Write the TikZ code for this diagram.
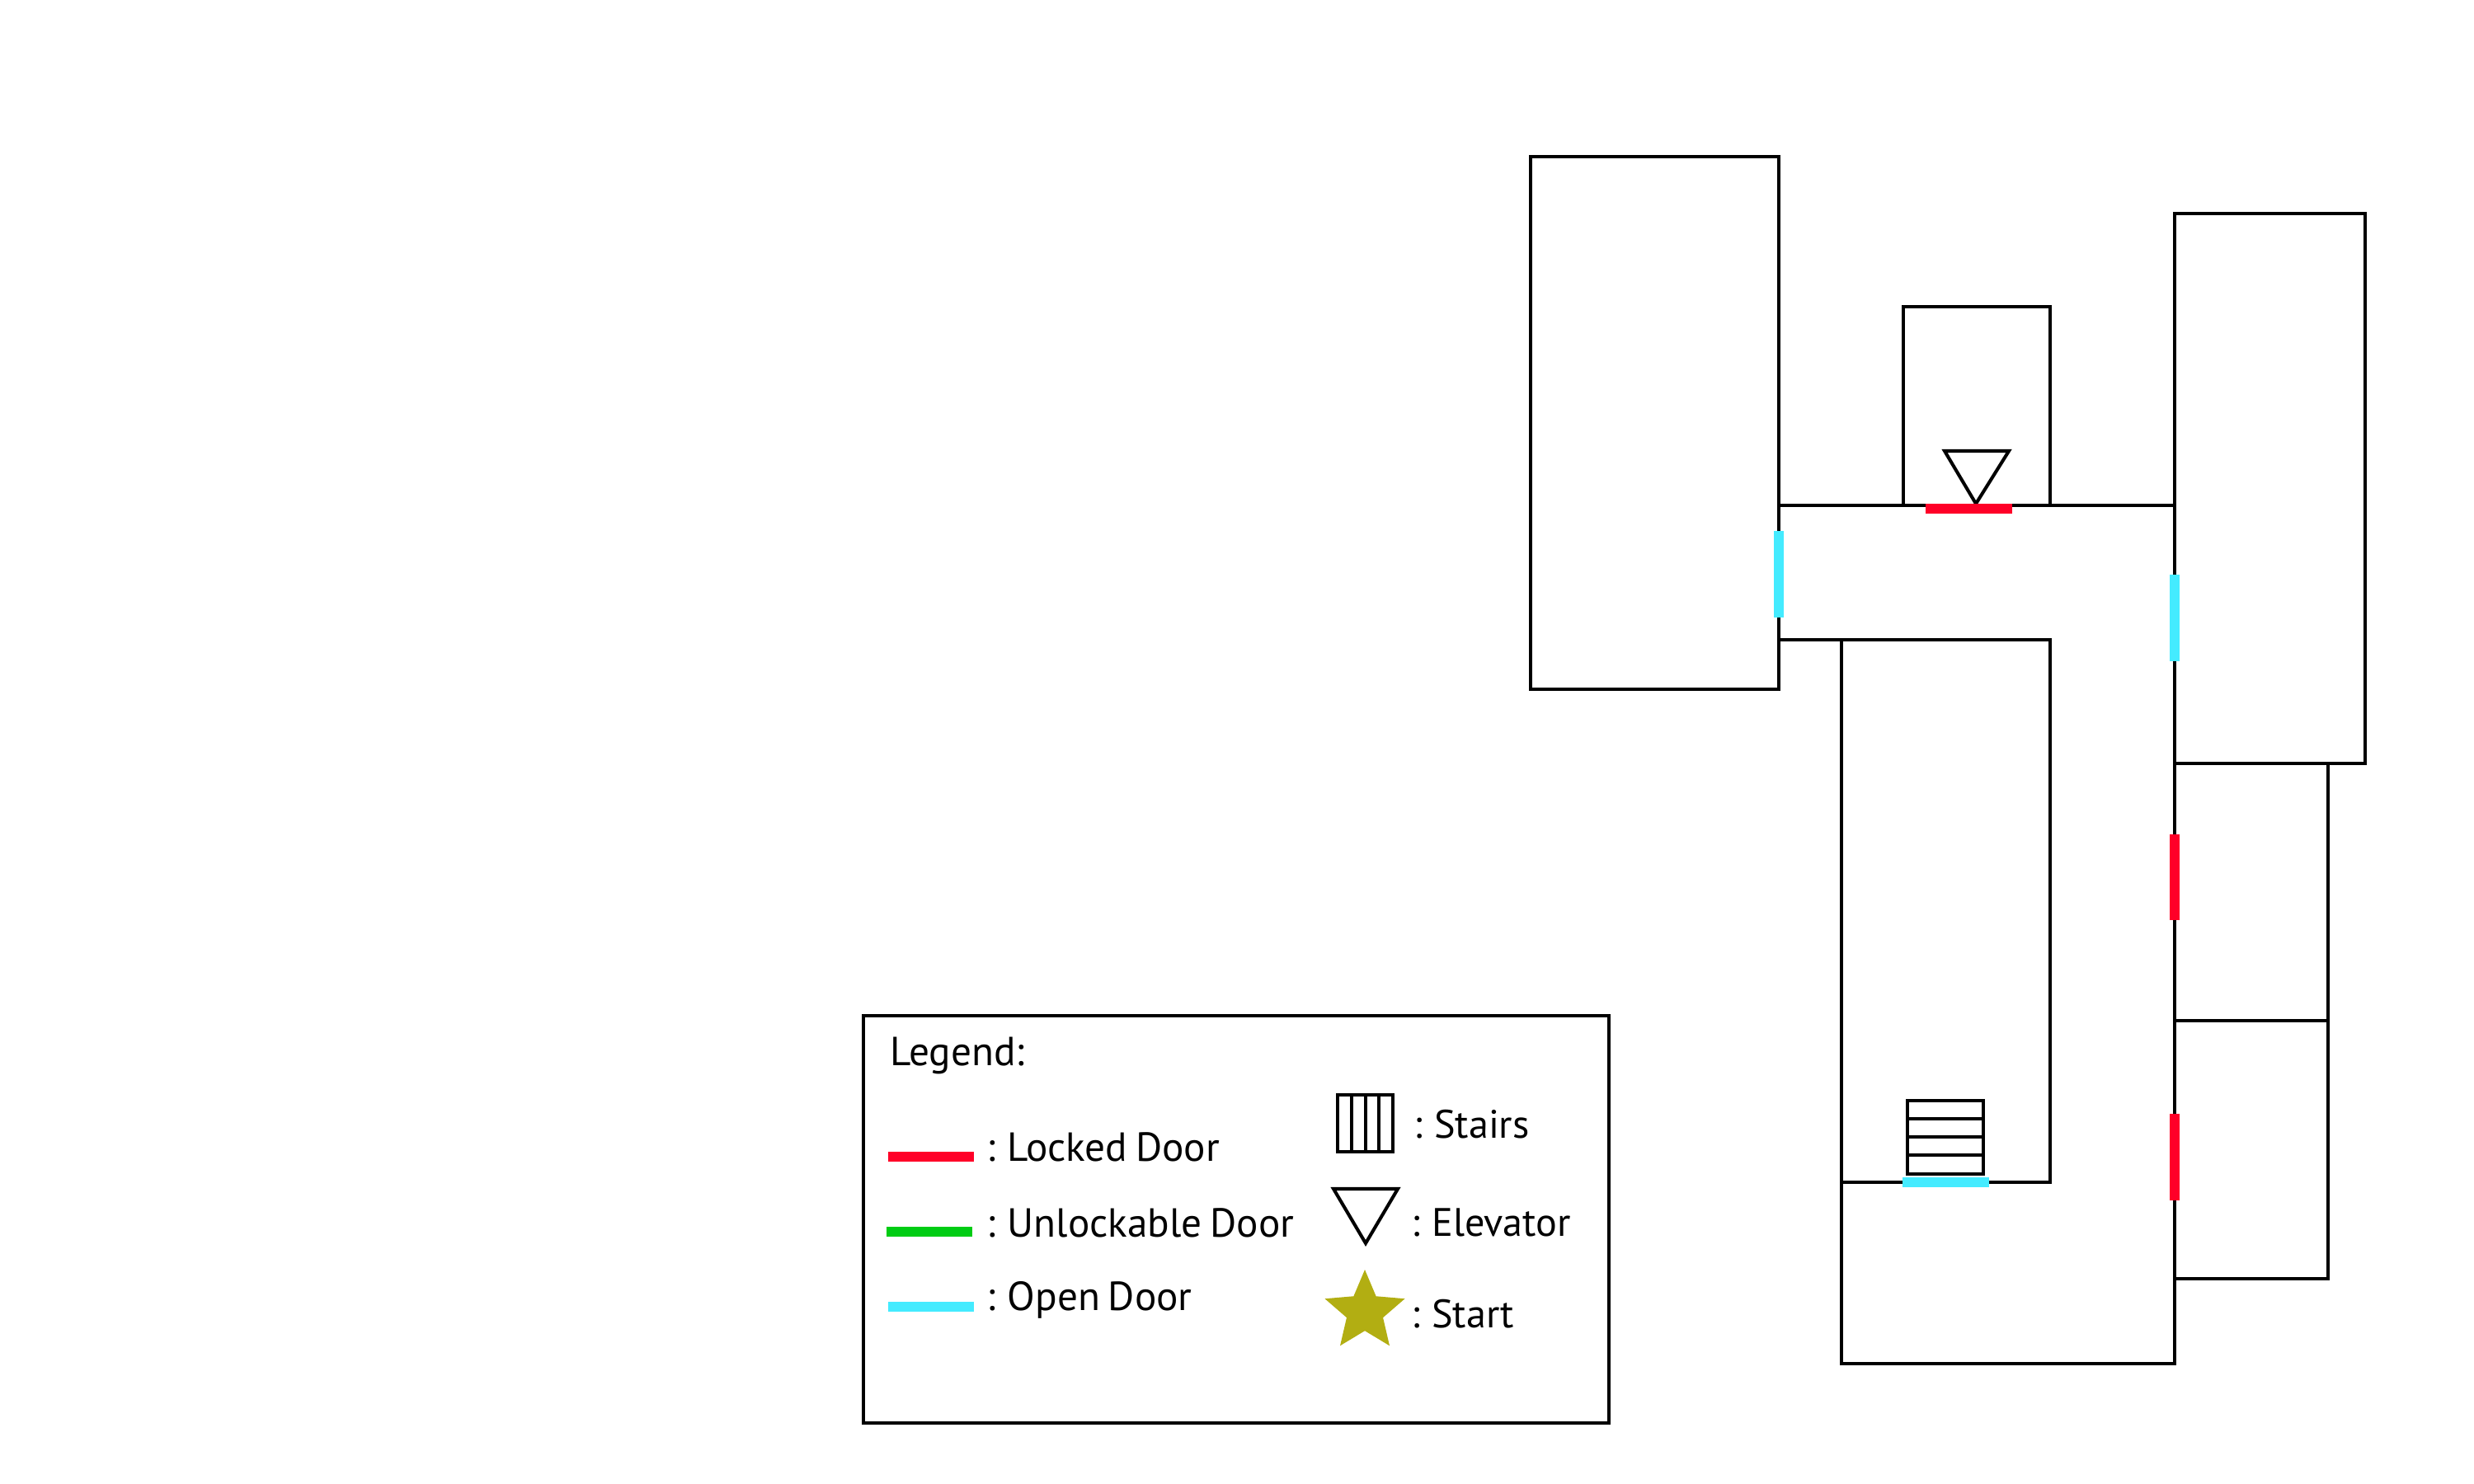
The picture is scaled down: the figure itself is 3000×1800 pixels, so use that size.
\documentclass[tikz,border=0pt]{standalone}
\usepackage{fontspec}
\setmainfont[WordSpace=0.75]{PT Sans}
\usetikzlibrary{shapes.geometric}
\definecolor{lockedred}{HTML}{FF0028}
\definecolor{unlockgreen}{HTML}{00CC14}
\definecolor{opencyan}{HTML}{44EBFF}
\definecolor{startolive}{HTML}{B2AE12}
\tikzset{
  wall/.style={line width=1.15pt, black, line join=miter},
  locked/.style={line width=3.6pt, lockedred},
  unlockable/.style={line width=3.6pt, unlockgreen},
  open/.style={line width=3.6pt, opencyan},
  legendtext/.style={anchor=base west, inner sep=0pt, font=\fontsize{14}{16}\selectfont},
  symboltext/.style={anchor=base west, inner sep=0pt, font=\fontsize{13.7}{16}\selectfont},
}
\begin{document}
\begin{tikzpicture}[x=0.01cm, y=-0.01cm]

\useasboundingbox (0,0) rectangle (3000,1800);

% rooms
\draw [wall] (1856,190) rectangle (2157,836);
\draw [wall] (2637,259) rectangle (2868,926);
\draw [wall] (2308,613) -- (2308,372) -- (2486,372) -- (2486,613);
\draw [wall] (2157,613) -- (2637,613) -- (2637,1654) -- (2233,1654) -- (2233,776);
\draw [wall] (2157,776) -- (2486,776) -- (2486,1434) -- (2233,1434);
\draw [wall] (2637,926) -- (2823,926) -- (2823,1551) -- (2637,1551);
\draw [wall] (2637,1238) -- (2823,1238);

% stairs and elevator on the plan
\draw [wall] (2313,1335) rectangle (2405,1424);
\draw [wall] (2313,1357) -- (2405,1357);
\draw [wall] (2313,1379) -- (2405,1379);
\draw [wall] (2313,1401) -- (2405,1401);
\draw [wall] (2358,547) -- (2436,547) -- (2396,611) -- cycle;

% doors
\draw [open] (2157,644) -- (2157,749);
\draw [open] (2637,697) -- (2637,802);
\draw [open] (2307,1434) -- (2412,1434);
\draw [locked] (2335,617) -- (2440,617);
\draw [locked] (2637,1012) -- (2637,1116);
\draw [locked] (2637,1351) -- (2637,1456);

% legend
\draw [wall] (1047,1232) rectangle (1951,1726);
\node (legendtitle) [legendtext] at (1079,1292) {Legend:};

\draw [locked] (1077,1403) -- (1181,1403);
\draw [unlockable] (1075,1494) -- (1179,1494);
\draw [open] (1077,1585) -- (1181,1585);
\node (lockedlabel) [legendtext] at (1196,1408) {: Locked Door};
\node (unlocklabel) [legendtext] at (1196,1500) {: Unlockable Door};
\node (openlabel) [legendtext] at (1196,1589) {: Open Door};

\draw [wall] (1622,1328) rectangle (1689,1397);
\draw [wall] (1639,1328) -- (1639,1397);
\draw [wall] (1656,1328) -- (1656,1397);
\draw [wall] (1672,1328) -- (1672,1397);
\draw [wall] (1617,1442) -- (1695,1442) -- (1656,1508) -- cycle;
\node (startmark) [star, star points=5, star point ratio=2.2, fill=startolive, inner sep=0pt, minimum size=102*0.01cm] at (1655,1591) {};

\node (stairslabel) [symboltext] at (1714,1380) {: Stairs};
\node (elevatorlabel) [symboltext] at (1711,1499) {: Elevator};
\node (startlabel) [symboltext] at (1711,1610) {: Start};

\end{tikzpicture}
\end{document}
